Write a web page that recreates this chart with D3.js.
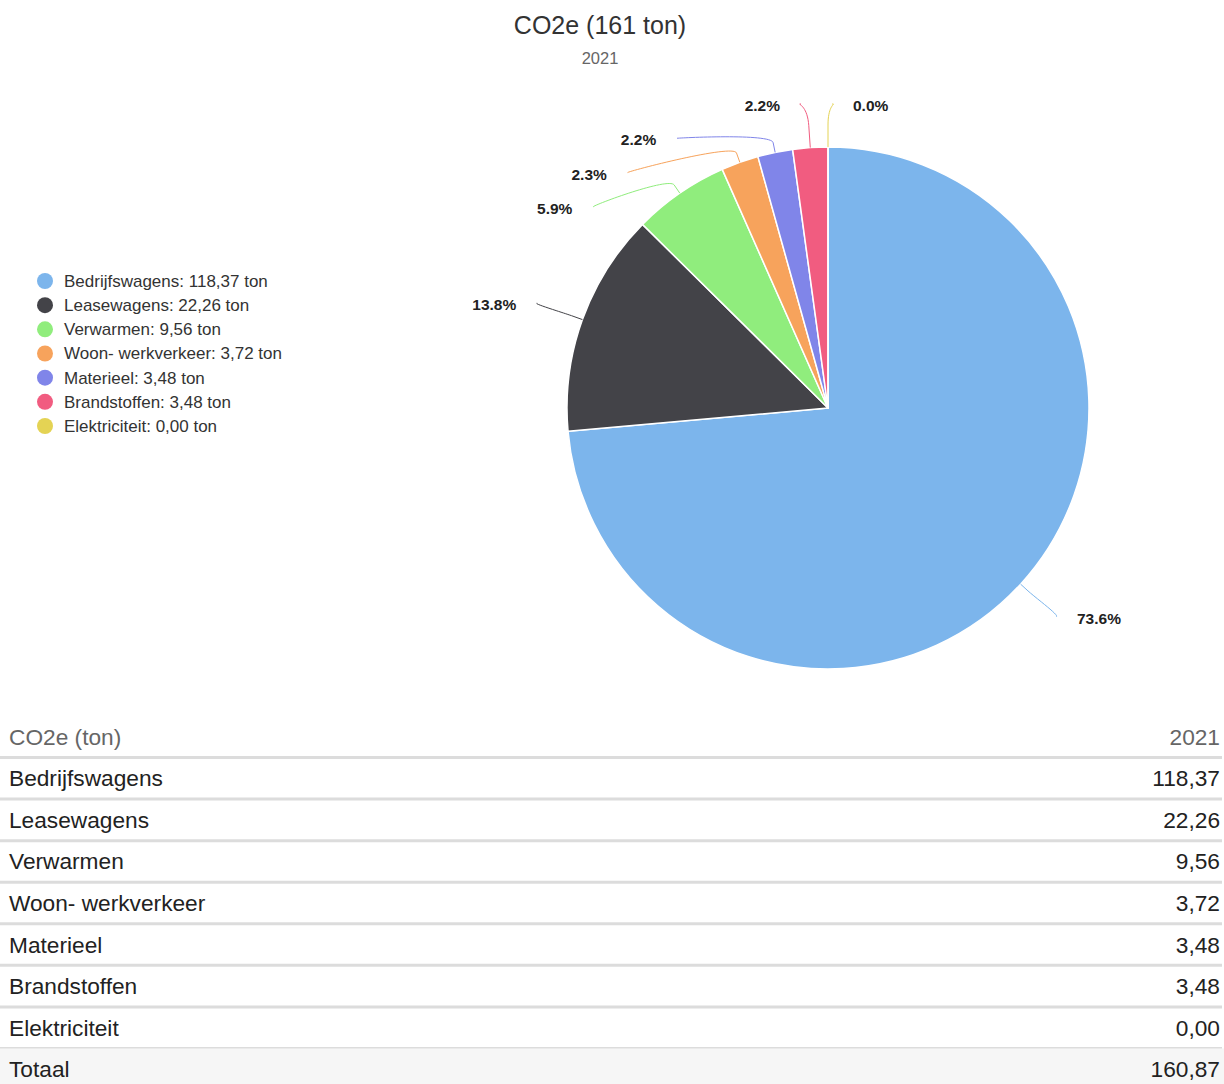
<!DOCTYPE html>
<html><head><meta charset="utf-8">
<script src="https://cdn.jsdelivr.net/npm/d3@7"></script>
<style>body{margin:0;background:#fff;font-family:"Liberation Sans",Arial,sans-serif}</style>
</head><body>
<svg id="c" width="1224" height="1084"></svg>
<script>
const categories = ["Bedrijfswagens","Leasewagens","Verwarmen","Woon- werkverkeer","Materieel","Brandstoffen","Elektriciteit"];
const values = [118.37, 22.26, 9.56, 3.72, 3.48, 3.48, 0.00];
const colors = ["#7cb5ec","#434348","#90ed7d","#f7a35c","#8085e9","#f15c80","#e4d354"];
const year = "2021";
const unit = "ton";
const tableHeader = "CO2e (ton)";
const totalLabel = "Totaal";

const W = 1224, H = 1084;
const svg = d3.select("#c");
const total = d3.sum(values);
const nl = d3.formatLocale({decimal:",", thousands:".", grouping:[3], currency:["€",""]});
const f2 = nl.format(".2f");
const pct = d3.format(".1f");

// title
svg.append("text").attr("x", 600).attr("y", 34).attr("text-anchor","middle")
  .attr("font-size", 25).attr("fill","#333").text(`CO2e (${Math.round(total)} ${unit})`);
svg.append("text").attr("x", 600).attr("y", 64).attr("text-anchor","middle")
  .attr("font-size", 16.5).attr("fill","#666").text(year);

// pie
const cx = 828, cy = 408, r = 261, Rl = r + 48;
const pie = d3.pie().sort(null).startAngle(0).endAngle(2*Math.PI).value(d=>d);
const arcs = pie(values);
const arc = d3.arc().innerRadius(0).outerRadius(r);
const g = svg.append("g").attr("transform",`translate(${cx},${cy})`);
g.selectAll("path").data(arcs).join("path")
  .attr("d", arc).attr("fill",(d,i)=>colors[i]).attr("stroke","#fff").attr("stroke-width",1.5).attr("stroke-linejoin","round");

// data labels
const items = arcs.map((a,i)=>{
  const mid = (a.startAngle+a.endAngle)/2;
  const left = Math.sin(mid) < -1e-9;
  return {i, mid, left, target: cy - Rl*Math.cos(mid)};
});
function distribute(list, minY, maxY, gap){
  list.sort((a,b)=>a.target-b.target);
  let groups = list.map(d=>({items:[d]}));
  const place = gr => {
    const n = gr.items.length;
    let s = d3.mean(gr.items,(d,k)=>d.target-k*gap);
    s = Math.max(minY, Math.min(maxY-(n-1)*gap, s));
    gr.start = s;
  };
  let merged = true;
  while(merged){
    merged = false;
    groups.forEach(place);
    for(let k=0;k<groups.length-1;k++){
      const a = groups[k], b = groups[k+1];
      if(a.start + a.items.length*gap > b.start){
        a.items = a.items.concat(b.items); groups.splice(k+1,1); merged = true; break;
      }
    }
  }
  groups.forEach(gr=>gr.items.forEach((d,k)=>d.y = gr.start + k*gap));
}
distribute(items.filter(d=>d.left), 104, 710, 34.3);
distribute(items.filter(d=>!d.left), 104, 710, 34.3);

items.forEach(d=>{
  const s = d.left ? -1 : 1;
  const dy = d.y - cy;
  const ratio = Math.abs(dy)/Rl;
  const off = ratio > 0.97 ? Rl*Math.abs(Math.sin(d.mid)) + (d.left ? 6 : 4) : Math.sqrt(Math.max(0, Rl*Rl - dy*dy));
  d.x = cx + s*off;
  const tx = cx + r*Math.sin(d.mid), ty = cy - r*Math.cos(d.mid);
  const brk = ratio > 0.97 ? 22 : 10;
  const bx = cx + (r+brk)*Math.sin(d.mid), by = cy - (r+brk)*Math.cos(d.mid);
  const p = d3.path();
  p.moveTo(d.x, d.y);
  p.bezierCurveTo(d.x + s*5, d.y, 2*bx-tx, 2*by-ty, bx, by);
  p.lineTo(tx, ty);
  svg.append("path").attr("d", p.toString()).attr("fill","none")
    .attr("stroke", colors[d.i]).attr("stroke-width",1);
  svg.append("text").attr("x", d.x + s*21).attr("y", d.y + 3)
    .attr("text-anchor", d.left ? "end" : "start").attr("dominant-baseline","middle")
    .attr("font-size", 15.5).attr("font-weight","bold").attr("fill","#222")
    .text(pct(values[d.i]/total*100) + "%");
});

// legend
const lg = svg.append("g");
const ly = d3.scalePoint().domain(categories).range([281, 426]);
categories.forEach((c,i)=>{
  lg.append("circle").attr("cx",45).attr("cy",ly(c)).attr("r",8).attr("fill",colors[i]);
  lg.append("text").attr("x",64).attr("y",ly(c)+1.5).attr("dominant-baseline","middle")
    .attr("font-size",17).attr("fill","#333").text(`${c}: ${f2(values[i])} ${unit}`);
});

// table
const rows = [{label: tableHeader, val: year, header:true}]
  .concat(categories.map((c,i)=>({label:c, val:f2(values[i])})))
  .concat([{label: totalLabel, val: f2(total), total:true}]);
const ry = d3.scaleBand().domain(d3.range(rows.length)).range([716, 1090]);
const tg = svg.append("g");
rows.forEach((row,k)=>{
  const y0 = ry(k), h = ry.bandwidth();
  if(row.total) tg.append("rect").attr("x",0).attr("y",y0).attr("width",W).attr("height",h).attr("fill","#f6f6f6");
  tg.append("text").attr("x",9).attr("y",y0+h/2+2).attr("dominant-baseline","middle")
    .attr("font-size",22.7).attr("fill", row.header ? "#666" : "#222").text(row.label);
  tg.append("text").attr("x",1220).attr("y",y0+h/2+2).attr("dominant-baseline","middle").attr("text-anchor","end")
    .attr("font-size",22.7).attr("fill", row.header ? "#666" : "#222").text(row.val);
  if(k < rows.length-1)
    tg.append("line").attr("x1",0).attr("x2",1222).attr("y1",y0+h).attr("y2",y0+h)
      .attr("stroke","#dcdcdc").attr("stroke-width",3);
});
</script></body></html>
